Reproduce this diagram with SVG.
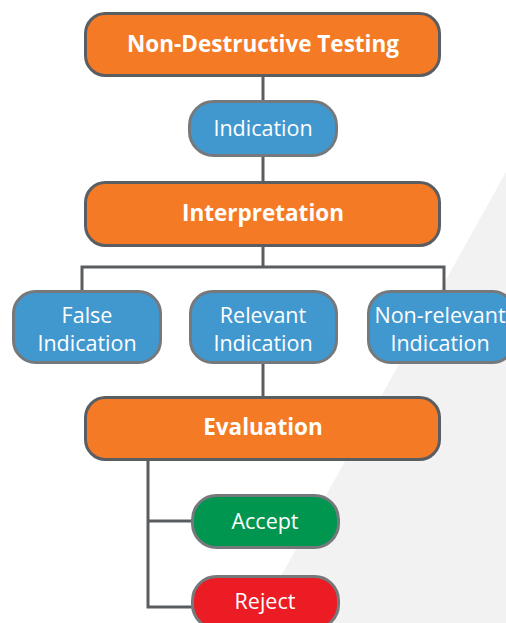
<svg xmlns="http://www.w3.org/2000/svg" width="506" height="623" viewBox="0 0 506 623">
<style>
.o{fill:#f47a25;stroke:#5a5e62;stroke-width:3}
.b{fill:#4198cf;stroke:#76797c;stroke-width:3}
.g{fill:#00964f;stroke:#76797c;stroke-width:3}
.r{fill:#ec1c24;stroke:#76797c;stroke-width:3}
text{font-family:"Open Sans","Noto Sans",sans-serif;fill:#fff;text-anchor:middle}
.t1{font-size:22.5px;font-weight:bold}
.t2{font-size:21.5px}
.c{fill:none;stroke:#5a5d60;stroke-width:3}
</style>
<rect width="506" height="623" fill="#fff"/>
<polygon points="506,172 506,623 255,623" fill="#f2f2f2"/>
<g id="connectors">
<path class="c" d="M263 77V101M263 156V183M263 246V267M82 290V267H444V290M263 362V398M148 460V607H193M148 521H193"/>
</g>
<g id="ndt"><rect class="o" x="85.5" y="13.5" width="354" height="62" rx="20"/><text class="t1" x="263" y="52">Non-Destructive Testing</text></g>
<g id="indication"><rect class="b" x="189.5" y="101.5" width="147" height="54" rx="24"/><text class="t2" x="263" y="136">Indication</text></g>
<g id="interpretation"><rect class="o" x="85.5" y="182.5" width="354" height="63" rx="20"/><text class="t1" x="263" y="221">Interpretation</text></g>
<g id="false"><rect class="b" x="13.5" y="291.5" width="147" height="71" rx="22"/><text class="t2" x="87" y="323">False</text><text class="t2" x="87" y="351">Indication</text></g>
<g id="relevant"><rect class="b" x="190.5" y="291.5" width="146" height="71" rx="22"/><text class="t2" x="263" y="323">Relevant</text><text class="t2" x="263" y="351">Indication</text></g>
<g id="nonrelevant"><rect class="b" x="368.5" y="291.5" width="146" height="71" rx="22"/><text class="t2" x="440" y="323">Non-relevant</text><text class="t2" x="440" y="351">Indication</text></g>
<g id="evaluation"><rect class="o" x="85.5" y="397.5" width="354" height="62" rx="20"/><text class="t1" x="263" y="435">Evaluation</text></g>
<g id="accept"><rect class="g" x="192.5" y="495.5" width="146" height="52" rx="24"/><text class="t2" x="265" y="529">Accept</text></g>
<g id="reject"><rect class="r" x="192.5" y="576.5" width="146" height="52" rx="24"/><text class="t2" x="265" y="609">Reject</text></g>
</svg>
